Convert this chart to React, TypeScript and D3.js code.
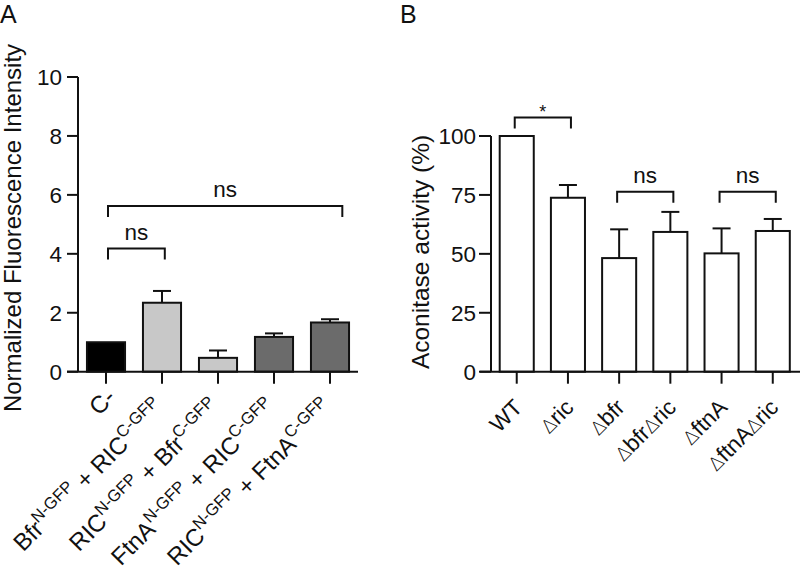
import React from "react";
import * as d3 from "d3";

// ---------- Panel A data ----------
const catsA = ["C-", "Bfr+RIC", "RIC+Bfr", "FtnA+RIC", "RIC+FtnA"];
const labelsA: [string, string, string, string][] = [
  ["C-", "", "", ""],
  ["Bfr", "N-GFP", " + RIC", "C-GFP"],
  ["RIC", "N-GFP", " + Bfr", "C-GFP"],
  ["FtnA", "N-GFP", " + RIC", "C-GFP"],
  ["RIC", "N-GFP", " + FtnA", "C-GFP"],
];
const valuesA = [1.0, 2.34, 0.47, 1.18, 1.67];
const errorsA = [0, 0.4, 0.25, 0.12, 0.11];
const colorsA = ["#000000", "#c8c8c8", "#c8c8c8", "#6b6b6b", "#6b6b6b"];
const ticksA = [0, 2, 4, 6, 8, 10];
// brackets: [from, to, y value, label, right offset in steps]
const bracketsA: [number, number, number, string, number][] = [
  [0, 1, 4.18, "ns", 0.05],
  [0, 4, 5.62, "ns", 0.22],
];

// ---------- Panel B data ----------
const catsB = ["WT", "ric", "bfr", "bfrric", "ftnA", "ftnAric"];
const labelsB: string[] = ["WT", "Δric", "Δbfr", "ΔbfrΔric", "ΔftnA", "ΔftnAΔric"];
const valuesB = [100, 73.8, 48.2, 59.3, 50.2, 59.7];
const errorsB = [0, 5.4, 12.2, 8.5, 10.6, 5.1];
const ticksB = [0, 25, 50, 75, 100];
const bracketsB: [number, number, number, string][] = [
  [0, 1, 107.9, "*"],
  [2, 3, 76.4, "ns"],
  [4, 5, 76.4, "ns"],
];

const FONT = "'Liberation Sans', Arial, Helvetica, sans-serif";

export default function App() {
  const W = 800, H = 569;
  const y0 = 371.7;

  const xA = d3.scaleBand<string>().domain(catsA).range([78, 358]).paddingInner(0.32).paddingOuter(0.16);
  const yA = d3.scaleLinear().domain([0, 10]).range([y0, 77]);

  const xB = d3.scaleBand<string>().domain(catsB).range([491, 798.5]).paddingInner(0.335).paddingOuter(0.17);
  const yB = d3.scaleLinear().domain([0, 100]).range([y0, 136]);

  const sw = 2;
  const stroke = "#111";

  const renderB = (s: string) => {
    const parts = s.split(/(Δ)/).filter((p) => p.length);
    return parts.map((p, j) =>
      p === "Δ" ? (
        <tspan key={j} fontFamily="'DejaVu Sans', sans-serif" fontWeight={200} fontSize={19}>∆</tspan>
      ) : (
        <tspan key={j}>{p}</tspan>
      )
    );
  };

  return (
    <svg width={W} height={H} style={{ position: "absolute", left: 0, top: 0, background: "#fff" }} fontFamily={FONT}>
      <rect width={W} height={H} fill="#fff" />
      <text x={0} y={23} fontSize={25} fill="#111">A</text>
      <text x={400} y={23} fontSize={25} fill="#111">B</text>

      {/* ===== Panel A ===== */}
      <g>
        <text transform={`translate(21,228) rotate(-90)`} textAnchor="middle" fontSize={24} fill="#111">
          Normalized Fluorescence Intensity
        </text>
        {catsA.map((c, i) => {
          const x = xA(c)!;
          const w = xA.bandwidth();
          const cx = x + w / 2;
          const top = yA(valuesA[i]);
          const et = yA(valuesA[i] + errorsA[i]);
          return (
            <g key={c}>
              <rect x={x} y={top} width={w} height={y0 - top} fill={colorsA[i]} stroke={stroke} strokeWidth={sw} />
              {errorsA[i] > 0 && (
                <g stroke={stroke} strokeWidth={sw}>
                  <line x1={cx} x2={cx} y1={top} y2={et} />
                  <line x1={cx - 9} x2={cx + 9} y1={et} y2={et} />
                </g>
              )}
            </g>
          );
        })}
        <line x1={78} x2={78} y1={yA(10)} y2={y0} stroke={stroke} strokeWidth={sw} />
        <line x1={67} x2={358} y1={y0} y2={y0} stroke={stroke} strokeWidth={sw} />
        {ticksA.map((t) => (
          <g key={t}>
            <line x1={67} x2={78} y1={yA(t)} y2={yA(t)} stroke={stroke} strokeWidth={sw} />
            <text x={62} y={yA(t)} dy="0.36em" textAnchor="end" fontSize={22.5} fill="#111">{t}</text>
          </g>
        ))}
        {catsA.map((c, i) => {
          const cx = xA(c)! + xA.bandwidth() / 2;
          const l = labelsA[i];
          const sup = l[1] !== "";
          const ax = sup ? cx + 4 : cx + 11;
          const ay = sup ? y0 + 38 : y0 + 27;
          return (
            <g key={c}>
              <line x1={cx} x2={cx} y1={y0} y2={y0 + 12} stroke={stroke} strokeWidth={sw} />
              <text transform={`translate(${ax},${ay}) rotate(-45)`} textAnchor="end" fontSize={24} fill="#111">
                <tspan>{l[0]}</tspan>
                {sup && <tspan fontSize={16.5} dy={-10}>{l[1]}</tspan>}
                {sup && <tspan dy={10}>{l[2]}</tspan>}
                {sup && <tspan fontSize={16.5} dy={-10}>{l[3]}</tspan>}
              </text>
            </g>
          );
        })}
        {bracketsA.map(([a, b, v, lab, off], k) => {
          const step = xA.step();
          const x1 = xA(catsA[a])! + xA.bandwidth() / 2 + 2;
          const x2 = xA(catsA[b])! + xA.bandwidth() / 2 + off * step;
          const y = yA(v);
          return (
            <g key={k}>
              <path d={`M${x1},${y + 11}V${y}H${x2}V${y + 11}`} fill="none" stroke={stroke} strokeWidth={sw} />
              <text x={(x1 + x2) / 2} y={y - 9} textAnchor="middle" fontSize={22.5} fill="#111">{lab}</text>
            </g>
          );
        })}
      </g>

      {/* ===== Panel B ===== */}
      <g>
        <text transform={`translate(428.5,252) rotate(-90)`} textAnchor="middle" fontSize={24.5} fill="#111">
          Aconitase activity (%)
        </text>
        {catsB.map((c, i) => {
          const x = xB(c)!;
          const w = xB.bandwidth();
          const cx = x + w / 2;
          const top = yB(valuesB[i]);
          const et = yB(valuesB[i] + errorsB[i]);
          return (
            <g key={c}>
              <rect x={x} y={top} width={w} height={y0 - top} fill="#fff" stroke={stroke} strokeWidth={sw} />
              {errorsB[i] > 0 && (
                <g stroke={stroke} strokeWidth={sw}>
                  <line x1={cx} x2={cx} y1={top} y2={et} />
                  <line x1={cx - 9} x2={cx + 9} y1={et} y2={et} />
                </g>
              )}
            </g>
          );
        })}
        <line x1={491} x2={491} y1={yB(100)} y2={y0} stroke={stroke} strokeWidth={sw} />
        <line x1={480} x2={800} y1={y0} y2={y0} stroke={stroke} strokeWidth={sw} />
        {ticksB.map((t) => (
          <g key={t}>
            <line x1={479} x2={491} y1={yB(t)} y2={yB(t)} stroke={stroke} strokeWidth={sw} />
            <text x={476} y={yB(t)} dy="0.36em" textAnchor="end" fontSize={22.5} fill="#111">{t}</text>
          </g>
        ))}
        {catsB.map((c, i) => {
          const cx = xB(c)! + xB.bandwidth() / 2;
          return (
            <g key={c}>
              <line x1={cx} x2={cx} y1={y0} y2={y0 + 12} stroke={stroke} strokeWidth={sw} />
              <text transform={`translate(${cx + 7},${y0 + 37}) rotate(-45)`} textAnchor="end" fontSize={22.5} fill="#111">
                {renderB(labelsB[i])}
              </text>
            </g>
          );
        })}
        {bracketsB.map(([a, b, v, lab], k) => {
          const x1 = xB(catsB[a])! + xB.bandwidth() / 2 - 2;
          const x2 = xB(catsB[b])! + xB.bandwidth() / 2 + 3;
          const y = yB(v);
          return (
            <g key={k}>
              <path d={`M${x1},${y + 11}V${y}H${x2}V${y + 11}`} fill="none" stroke={stroke} strokeWidth={sw} />
              <text x={(x1 + x2) / 2} y={lab === "*" ? y + 1 : y - 9} textAnchor="middle" fontSize={lab === "*" ? 18 : 22.5} fill="#111">{lab}</text>
            </g>
          );
        })}
      </g>
    </svg>
  );
}
